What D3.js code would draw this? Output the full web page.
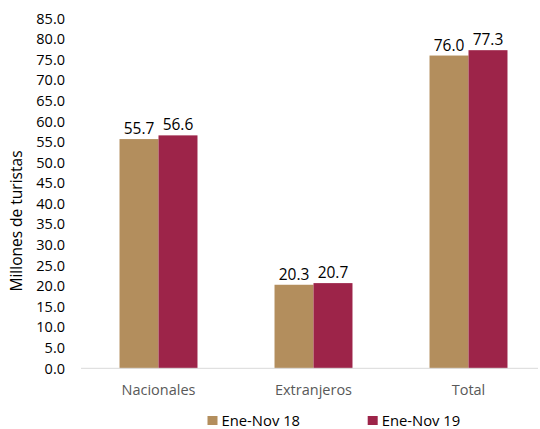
<!DOCTYPE html>
<html>
<head>
<meta charset="utf-8">
<script src="https://cdn.jsdelivr.net/npm/d3@7/dist/d3.min.js"></script>
<style>
  body { margin: 0; background: #fff; }
  svg { display: block; }
  text { font-family: "Open Sans", sans-serif; }
</style>
</head>
<body>
<svg id="chart" width="540" height="429"></svg>
<script>
const categories = ["Nacionales", "Extranjeros", "Total"];
const seriesNames = ["Ene-Nov 18", "Ene-Nov 19"];
const values18 = [55.7, 20.3, 76.0];
const values19 = [56.6, 20.7, 77.3];
const yTicks = [0, 5, 10, 15, 20, 25, 30, 35, 40, 45, 50, 55, 60, 65, 70, 75, 80, 85];
const colors = ["#B38E5D", "#9D2449"];
const yTitle = "Millones de turistas";

const svg = d3.select("#chart");
const x0 = 81, x1 = 546, yBase = 368.3, yTop = 18.5;

const x = d3.scaleBand().domain(categories).range([x0, x1]).paddingInner(0.497).paddingOuter(0.2485);
const xs = d3.scaleBand().domain(seriesNames).range([0, x.bandwidth()]);
const y = d3.scaleLinear().domain([0, 85]).range([yBase, yTop]);

// y tick labels
svg.append("g").selectAll("text").data(yTicks).join("text")
  .attr("x", 65).attr("y", d => y(d)).attr("dy", "0.36em")
  .attr("text-anchor", "end").attr("font-size", 14.5).attr("fill", "#000")
  .text(d => d.toFixed(1));

// y title
svg.append("text")
  .attr("transform", `translate(22,221) rotate(-90)`)
  .attr("text-anchor", "middle").attr("font-size", 15.5).attr("fill", "#000")
  .text(yTitle);

const data = categories.map((c, i) => ({ cat: c, vals: [values18[i], values19[i]] }));

const groups = svg.append("g").selectAll("g").data(data).join("g")
  .attr("transform", d => `translate(${x(d.cat)},0)`);

groups.selectAll("rect").data(d => d.vals.map((v, j) => ({ s: seriesNames[j], v, j }))).join("rect")
  .attr("x", d => xs(d.s)).attr("width", xs.bandwidth())
  .attr("y", d => y(d.v)).attr("height", d => yBase - y(d.v))
  .attr("fill", d => colors[d.j]);

groups.selectAll("text.val").data(d => d.vals.map((v, j) => ({ s: seriesNames[j], v, j }))).join("text")
  .attr("class", "val")
  .attr("x", d => xs(d.s) + xs.bandwidth() / 2).attr("y", d => y(d.v) - 5)
  .attr("text-anchor", "middle").attr("font-size", 15.5).attr("fill", "#000")
  .text(d => d.v.toFixed(1));

// x axis line
svg.append("line").attr("x1", x0).attr("x2", 538).attr("y1", yBase).attr("y2", yBase)
  .attr("stroke", "#d9d9d9").attr("stroke-width", 1);

// category labels
svg.append("g").selectAll("text").data(categories).join("text")
  .attr("x", d => x(d) + x.bandwidth() / 2).attr("y", 395)
  .attr("text-anchor", "middle").attr("font-size", 14.5).attr("fill", "#595959")
  .text(d => d);

// legend
const legX = [207.5, 367.7];
const leg = svg.append("g").selectAll("g").data(seriesNames).join("g")
  .attr("transform", (d, i) => `translate(${legX[i]},416)`);
leg.append("rect").attr("width", 10).attr("height", 9).attr("fill", (d, i) => colors[i]);
leg.append("text").attr("x", 14).attr("y", 9.5).attr("font-size", 14.8).attr("fill", "#000").text(d => d);
</script>
</body>
</html>
